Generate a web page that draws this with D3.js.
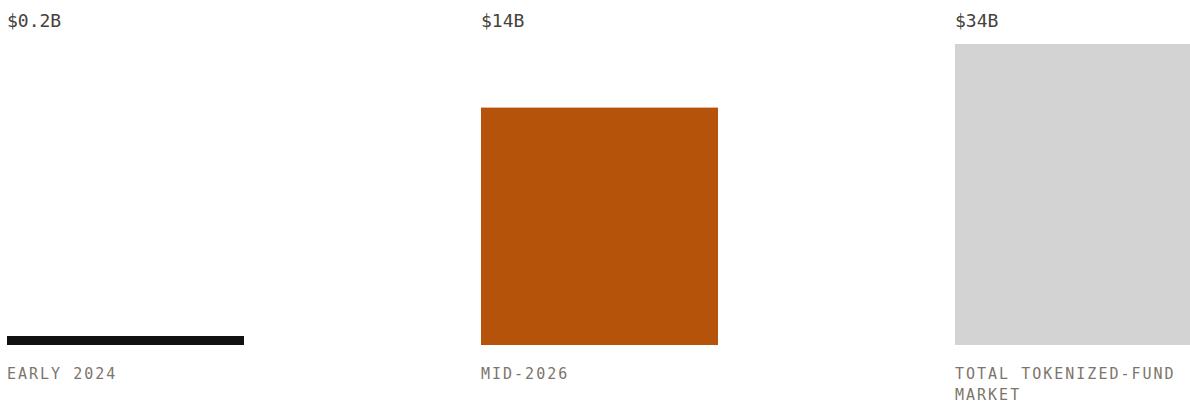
<!DOCTYPE html>
<html lang="en">
<head>
<meta charset="utf-8">
<title>Tokenized funds</title>
<script src="https://cdn.jsdelivr.net/npm/d3@7"></script>
<style>
  html, body { margin: 0; padding: 0; background: #fff; overflow: hidden; }
  .value { font-family: "DejaVu Sans Mono", "Liberation Mono", monospace; font-size: 18px; fill: #45413b; }
  .label { font-family: "DejaVu Sans Mono", "Liberation Mono", monospace; font-size: 15px; fill: #7d756b; letter-spacing: 2px; }
</style>
</head>
<body>
<div class="chart"></div>
<script>
// data
const categories = ["EARLY 2024", "MID-2026", "TOTAL TOKENIZED-FUND MARKET"];
const values = [0.2, 14, 34];            // $ billions
const valueLabels = ["$0.2B", "$14B", "$34B"];
const colors = ["#111111", "#b5530b", "#d3d3d3"];

const width = 1190, height = 403;
const barBottom = 345, barTop = 44;
const minBar = 9;

const svg = d3.select(".chart").append("svg")
    .attr("width", width)
    .attr("height", height);

const x = d3.scaleBand()
    .domain(categories)
    .range([7, 1192])
    .paddingInner(0.5)
    .paddingOuter(0);

// log scale, small values floor at a thin stub
const y = d3.scaleLog()
    .domain([0.51, d3.max(values)])
    .range([0, barBottom - barTop])
    .clamp(true);

const rows = categories.map((c, i) => ({cat: c, value: values[i], text: valueLabels[i], color: colors[i]}));

const col = svg.selectAll("g.col")
    .data(rows)
    .enter()
    .append("g")
    .attr("class", "col")
    .attr("transform", d => `translate(${x(d.cat)},0)`);

col.append("rect")
    .attr("x", 0)
    .attr("width", x.bandwidth())
    .attr("y", d => barBottom - Math.max(minBar, y(d.value)))
    .attr("height", d => Math.max(minBar, y(d.value)))
    .attr("fill", d => d.color);

col.append("text")
    .attr("class", "value")
    .attr("x", 0)
    .attr("y", 27)
    .text(d => d.text);

col.append("text")
    .attr("class", "label")
    .attr("x", 0)
    .attr("y", 379)
    .each(function(d) {
        const t = d3.select(this);
        const words = d.cat.split(" ");
        let line = [];
        let tspan = t.append("tspan").attr("x", 0).attr("dy", 0);
        words.forEach(w => {
            line.push(w);
            tspan.text(line.join(" "));
            if (tspan.node().getComputedTextLength() > x.bandwidth() && line.length > 1) {
                line.pop();
                tspan.text(line.join(" "));
                line = [w];
                tspan = t.append("tspan").attr("x", 0).attr("dy", 21).text(w);
            }
        });
    });
</script>
</body>
</html>
